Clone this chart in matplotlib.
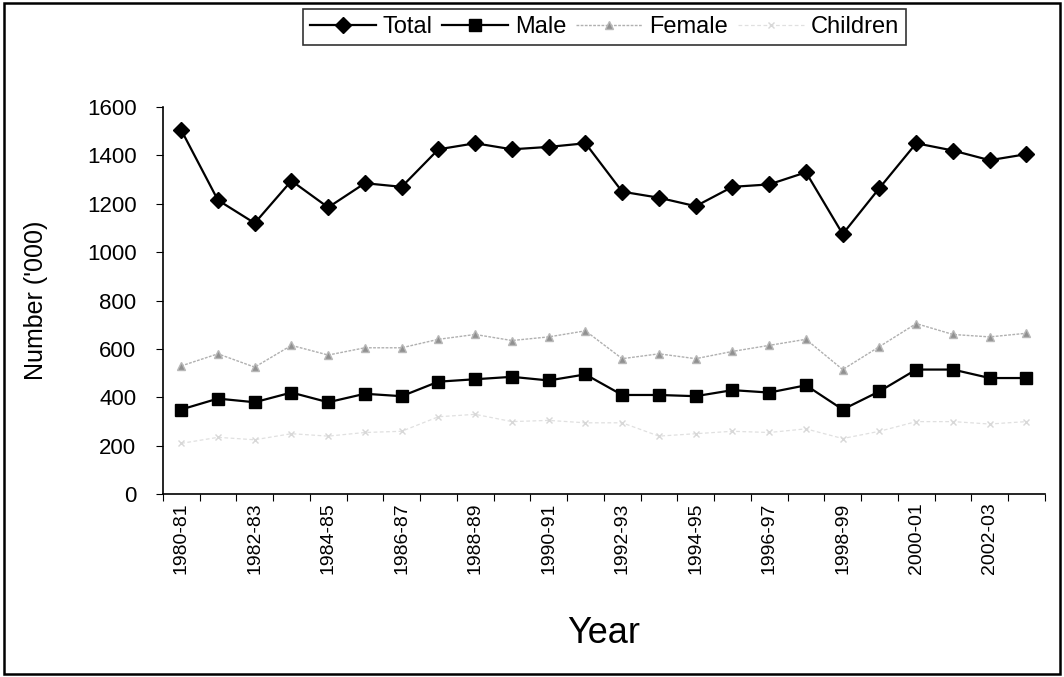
"""
Numbers by year: total, male, female and children ('000)
"""

import matplotlib.pyplot as plt
import numpy as np
from matplotlib.patches import Rectangle

plt.rcParams['font.family'] = ['Liberation Sans', 'DejaVu Sans']

years = ['1980-81', '1981-82', '1982-83', '1983-84', '1984-85', '1985-86',
         '1986-87', '1987-88', '1988-89', '1989-90', '1990-91', '1991-92',
         '1992-93', '1993-94', '1994-95', '1995-96', '1996-97', '1997-98',
         '1998-99', '1999-00', '2000-01', '2001-02', '2002-03', '2003-04']

total = [1505, 1215, 1120, 1295, 1185, 1285, 1270, 1425, 1450, 1425, 1435, 1450,
         1250, 1225, 1190, 1270, 1280, 1330, 1075, 1265, 1450, 1420, 1380, 1405]
male = [350, 395, 380, 420, 380, 415, 405, 465, 475, 485, 470, 495,
        410, 410, 405, 430, 420, 450, 350, 425, 515, 515, 480, 480]
female = [530, 580, 525, 615, 575, 605, 605, 640, 660, 635, 650, 675,
          560, 580, 560, 590, 615, 640, 515, 610, 705, 660, 650, 665]
children = [210, 235, 225, 250, 240, 255, 260, 320, 330, 300, 305, 295,
            295, 240, 250, 260, 255, 270, 230, 260, 300, 300, 290, 300]

x = np.arange(len(years))

fig = plt.figure(figsize=(10.64, 6.77), dpi=100)
ax = fig.add_axes([0.153, 0.270, 0.829, 0.572])

ax.plot(x, total, color='black', lw=1.6, marker='D', ms=8, label='Total')
ax.plot(x, male, color='black', lw=1.6, marker='s', ms=8, label='Male')
ax.plot(x, female, color='#b0b0b0', lw=1.0, ls=(0, (2, 1)), marker='^', ms=6,
        mfc='#909090', mec='#b8b8b8', label='Female')
ax.plot(x, children, color='#e0e0e0', lw=0.9, ls=(0, (3, 2)), marker='x', ms=5,
        mec='#d8d8d8', label='Children')

ax.set_ylim(0, 1600)
ax.set_yticks(range(0, 1601, 200))
ax.set_xlim(-0.5, len(years) - 0.5)

# tick marks sit between categories, labels on every second category
ax.set_xticks(np.arange(-0.5, len(years), 1.0))
ax.set_xticklabels([])
ax.set_xticks(x[::2], minor=True)
ax.set_xticklabels(years[::2], minor=True, rotation=90, fontsize=14)
ax.tick_params(axis='x', which='minor', length=0, pad=6)
ax.tick_params(axis='x', which='major', length=5, direction='out', color='black')
ax.tick_params(axis='y', length=5, direction='out', labelsize=16, pad=14)

for s in ['top', 'right']:
    ax.spines[s].set_visible(False)
for s in ['left', 'bottom']:
    ax.spines[s].set_color('black')
    ax.spines[s].set_linewidth(1.2)

ax.set_ylabel("Number ('000)", fontsize=18, labelpad=28)
ax.set_xlabel('Year', fontsize=26, labelpad=30)

leg = fig.legend(loc='center', bbox_to_anchor=(0.568, 0.960), ncol=4,
                 fontsize=17, frameon=True, fancybox=False, edgecolor='black',
                 handlelength=2.8, handletextpad=0.3, columnspacing=0.4,
                 borderpad=0.3)
leg.get_frame().set_linewidth(1.2)

fig.patches.append(Rectangle((0.004, 0.005), 0.992, 0.99, transform=fig.transFigure,
                             fill=False, edgecolor='black', lw=1.8))

fig.savefig('out.png', dpi=100)
